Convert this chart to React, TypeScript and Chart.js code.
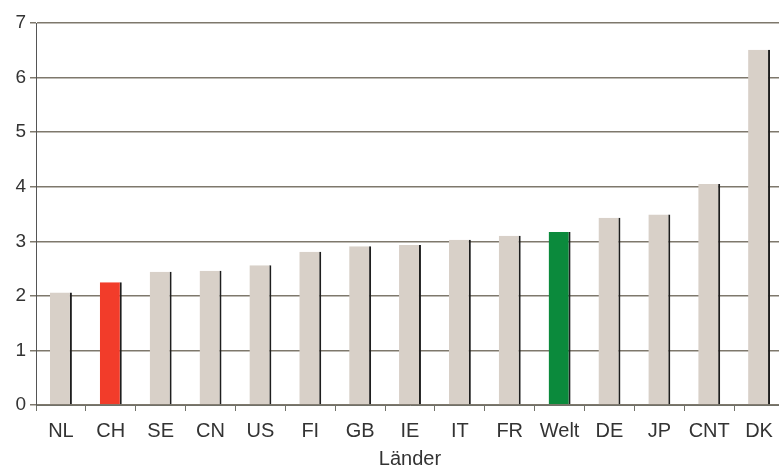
import React, { useEffect, useRef } from "react";
import { Chart, registerables } from "chart.js";

Chart.register(...registerables);

const categories = ["NL", "CH", "SE", "CN", "US", "FI", "GB", "IE", "IT", "FR", "Welt", "DE", "JP", "CNT", "DK"];
const values = [2.06, 2.25, 2.44, 2.46, 2.56, 2.81, 2.91, 2.93, 3.03, 3.1, 3.17, 3.43, 3.49, 4.05, 6.51];
const barColors = categories.map((c) => (c === "CH" ? "#f23c2a" : c === "Welt" ? "#0b8a3c" : "#d8d0c8"));
const yTicks = [0, 1, 2, 3, 4, 5, 6, 7];
const xTitle = "Länder";

const CANVAS_W = 784;
const CANVAS_H = 471;
const PLOT_BOTTOM = 405;
const PLOT_TOP = 23;
const Y_AXIS_W = 36;

export default function App() {
  const ref = useRef<HTMLCanvasElement | null>(null);
  useEffect(() => {
    if (!ref.current) return;
    const font = { family: "'Liberation Sans', Arial, sans-serif", size: 20 };
    const chart = new Chart(ref.current, {
      type: "bar",
      data: {
        labels: categories,
        datasets: [
          {
            data: values,
            backgroundColor: barColors,
            borderColor: "#1e1e1e",
            borderWidth: { left: 0, right: 2, top: 0, bottom: 0 },
            borderSkipped: false,
            categoryPercentage: 1,
            barPercentage: 0.44,
          },
        ],
      },
      options: {
        responsive: false,
        animation: false,
        devicePixelRatio: 1,
        layout: { padding: { top: PLOT_TOP, right: 0, bottom: 0, left: 0 } },
        plugins: { legend: { display: false }, tooltip: { enabled: false } },
        scales: {
          x: {
            offset: true,
            grid: {
              display: true,
              offset: true,
              drawOnChartArea: false,
              drawTicks: true,
              tickLength: 6,
              color: "#707068",
              lineWidth: 1,
            },
            border: { display: true, color: "#707068", width: 1 },
            ticks: { font, color: "#333333", maxRotation: 0, autoSkip: false, padding: 8 },
            title: { display: true, text: xTitle, font, color: "#333333", padding: { top: 0, bottom: 0 } },
            afterFit: (s: any) => {
              s.height = CANVAS_H - PLOT_BOTTOM;
            },
          },
          y: {
            min: 0,
            max: 7,
            afterBuildTicks: (s: any) => {
              s.ticks = yTicks.map((v) => ({ value: v }));
            },
            grid: {
              color: "#7e786c",
              lineWidth: 1.5,
              drawTicks: true,
              tickLength: 6,
            },
            border: { display: true, color: "#555555", width: 1 },
            ticks: { font: { ...font, size: 19 }, color: "#333333", padding: 4 },
            afterFit: (s: any) => {
              s.width = Y_AXIS_W;
            },
          },
        },
      },
    });
    return () => chart.destroy();
  }, []);
  return (
    <div style={{ position: "fixed", left: 0, top: 0, width: 779, height: 468, overflow: "hidden", background: "#fff" }}>
      <canvas ref={ref} width={CANVAS_W} height={CANVAS_H} style={{ width: CANVAS_W, height: CANVAS_H, display: "block" }} />
    </div>
  );
}
